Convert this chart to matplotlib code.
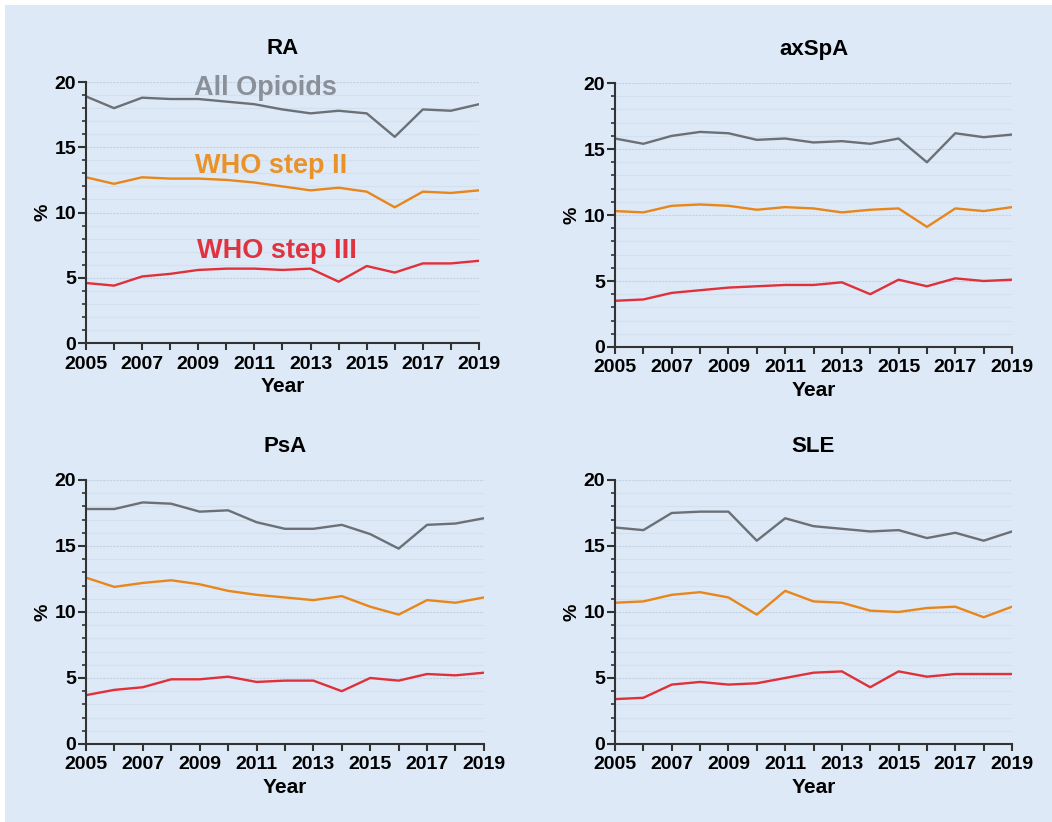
import numpy as np
import matplotlib
matplotlib.use("Agg")
import matplotlib.pyplot as plt
from matplotlib.patches import Rectangle
from matplotlib.ticker import MultipleLocator

plt.rcParams['font.family'] = ['Liberation Sans', 'DejaVu Sans']
plt.rcParams['font.weight'] = 'bold'

years = np.arange(2005, 2020)

# RA
ra_all = [18.9, 18.0, 18.8, 18.7, 18.7, 18.5, 18.3, 17.9, 17.6, 17.8, 17.6, 15.8, 17.9, 17.8, 18.3]
ra_ii = [12.7, 12.2, 12.7, 12.6, 12.6, 12.5, 12.3, 12.0, 11.7, 11.9, 11.6, 10.4, 11.6, 11.5, 11.7]
ra_iii = [4.6, 4.4, 5.1, 5.3, 5.6, 5.7, 5.7, 5.6, 5.7, 4.7, 5.9, 5.4, 6.1, 6.1, 6.3]

# axSpA
ax_all = [15.8, 15.4, 16.0, 16.3, 16.2, 15.7, 15.8, 15.5, 15.6, 15.4, 15.8, 14.0, 16.2, 15.9, 16.1]
ax_ii = [10.3, 10.2, 10.7, 10.8, 10.7, 10.4, 10.6, 10.5, 10.2, 10.4, 10.5, 9.1, 10.5, 10.3, 10.6]
ax_iii = [3.5, 3.6, 4.1, 4.3, 4.5, 4.6, 4.7, 4.7, 4.9, 4.0, 5.1, 4.6, 5.2, 5.0, 5.1]

# PsA
psa_all = [17.8, 17.8, 18.3, 18.2, 17.6, 17.7, 16.8, 16.3, 16.3, 16.6, 15.9, 14.8, 16.6, 16.7, 17.1]
psa_ii = [12.6, 11.9, 12.2, 12.4, 12.1, 11.6, 11.3, 11.1, 10.9, 11.2, 10.4, 9.8, 10.9, 10.7, 11.1]
psa_iii = [3.7, 4.1, 4.3, 4.9, 4.9, 5.1, 4.7, 4.8, 4.8, 4.0, 5.0, 4.8, 5.3, 5.2, 5.4]

# SLE
sle_all = [16.4, 16.2, 17.5, 17.6, 17.6, 15.4, 17.1, 16.5, 16.3, 16.1, 16.2, 15.6, 16.0, 15.4, 16.1]
sle_ii = [10.7, 10.8, 11.3, 11.5, 11.1, 9.8, 11.6, 10.8, 10.7, 10.1, 10.0, 10.3, 10.4, 9.6, 10.4]
sle_iii = [3.4, 3.5, 4.5, 4.7, 4.5, 4.6, 5.0, 5.4, 5.5, 4.3, 5.5, 5.1, 5.3, 5.3, 5.3]

titles = ['RA', 'axSpA', 'PsA', 'SLE']
panels = [(ra_all, ra_ii, ra_iii), (ax_all, ax_ii, ax_iii),
          (psa_all, psa_ii, psa_iii), (sle_all, sle_ii, sle_iii)]

BG = '#dde9f6'
C_ALL = '#6b7077'
C_II = '#e8861a'
C_III = '#e0303a'

fig = plt.figure(figsize=(10.52, 8.22), dpi=100)
fig.patch.set_facecolor('white')
fig.patches.append(Rectangle((5/1052, 0), 1 - 5/1052, 1 - 5/822, transform=fig.transFigure,
                             facecolor=BG, edgecolor='none', zorder=-10))

boxes = [[0.0817, 0.5827, 0.3736, 0.3175],
         [0.5846, 0.5779, 0.3774, 0.321],
         [0.0817, 0.0949, 0.3783, 0.3212],
         [0.5846, 0.0949, 0.3774, 0.3212]]

for i, (box, title, (s_all, s_ii, s_iii)) in enumerate(zip(boxes, titles, panels)):
    ax = fig.add_axes(box)
    ax.set_facecolor('none')
    # faint horizontal grid
    for yv in range(1, 21):
        col = '#c3d2e2' if yv % 5 == 0 else '#d3e0ee'
        ax.axhline(yv, color=col, lw=0.8, ls=(0, (2, 1)) if yv % 5 == 0 else '-', zorder=0)
    ax.plot(years, s_all, color=C_ALL, lw=1.7)
    ax.plot(years, s_ii, color=C_II, lw=1.7)
    ax.plot(years, s_iii, color=C_III, lw=1.7)
    ax.set_xlim(2005, 2019)
    ax.set_ylim(0, 20)
    ax.set_xticks(years)
    ax.set_xticklabels([str(y) if (y - 2005) % 2 == 0 else '' for y in years])
    ax.yaxis.set_major_locator(MultipleLocator(5))
    ax.yaxis.set_minor_locator(MultipleLocator(1))
    for s in ['top', 'right']:
        ax.spines[s].set_visible(False)
    for s in ['left', 'bottom']:
        ax.spines[s].set_color('#333333')
        ax.spines[s].set_linewidth(1.5)
    ax.tick_params(axis='x', which='major', color='#333333', width=1.5, length=5,
                   labelsize=14, pad=4)
    ax.tick_params(axis='y', which='major', color='#333333', width=1.5, length=6,
                   labelsize=14, pad=1)
    ax.tick_params(axis='y', which='minor', color='#333333', width=1.2, length=3)
    for lab in ax.get_xticklabels() + ax.get_yticklabels():
        lab.set_fontweight('bold')
    ax.set_xlabel('Year', fontsize=15, fontweight='bold', labelpad=3)
    ax.set_ylabel('%', fontsize=14, fontweight='bold', labelpad=2)
    ax.set_title(title, fontsize=16, fontweight='bold', pad=20)
    if i == 0:
        ax.text(2011.4, 19.0, 'All Opioids', color='#8a9099', fontsize=19.5,
                fontweight='bold', ha='center', va='baseline')
        ax.text(2011.6, 13.0, 'WHO step II', color='#ea922a', fontsize=19.5,
                fontweight='bold', ha='center', va='baseline')
        ax.text(2011.8, 6.5, 'WHO step III', color='#df3440', fontsize=19.5,
                fontweight='bold', ha='center', va='baseline')

fig.savefig('out.png', dpi=100, facecolor=fig.get_facecolor())
